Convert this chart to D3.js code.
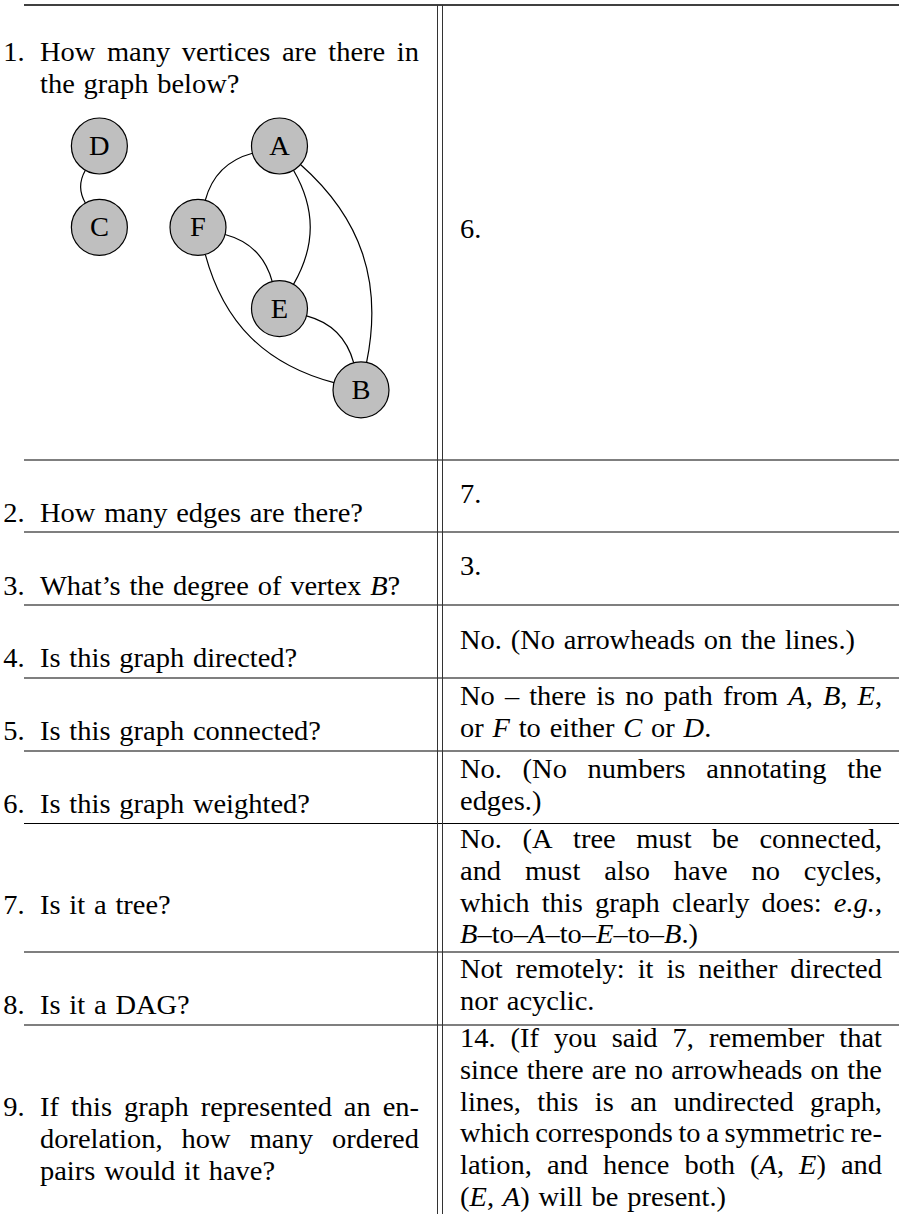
<!DOCTYPE html>
<html><head><meta charset="utf-8">
<script src="https://cdn.jsdelivr.net/npm/d3@7"></script>
<style>html,body{margin:0;padding:0;background:#fff;} svg{display:block;}</style>
</head><body>
<svg id="chart" width="899" height="1214"></svg>
<script>
// ---------- data ----------
const questionNumbers = ["1.","2.","3.","4.","5.","6.","7.","8.","9."];
const questionLines = [
  ["How many vertices are there in", "the graph below?"],
  ["How many edges are there?"],
  ["What’s the degree of vertex *B*?"],
  ["Is this graph directed?"],
  ["Is this graph connected?"],
  ["Is this graph weighted?"],
  ["Is it a tree?"],
  ["Is it a DAG?"],
  ["If this graph represented an en-", "dorelation, how many ordered", "pairs would it have?"]
];
const answerLines = [
  ["6."],
  ["7."],
  ["3."],
  ["No. (No arrowheads on the lines.)"],
  ["No – there is no path from *A*, *B*, *E*,", "or *F* to either *C* or *D*."],
  ["No. (No numbers annotating the", "edges.)"],
  ["No. (A tree must be connected,", "and must also have no cycles,", "which this graph clearly does: *e.g.*,", "*B*–to–*A*–to–*E*–to–*B*.)"],
  ["Not remotely: it is neither directed", "nor acyclic."],
  ["14. (If you said 7, remember that", "since there are no arrowheads on the", "lines, this is an undirected graph,", "which corresponds to a symmetric re-", "lation, and hence both (*A*, *E*) and", "(*E*, *A*) will be present.)"]
];
const nodeNames = ["A","B","C","D","E","F"];
const nodeCol   = [1, 2, -1.21, -1.21, 1, 0];
const nodeRow   = [0, 3, 1, 0, 2, 1];
const edgeList  = [["C","D"],["F","A"],["A","E"],["A","B"],["F","E"],["B","F"],["E","B"]];

// ---------- layout ----------
const layout = {
  topRule: 5,
  rowRules: [460, 532, 605, 678, 751, 823.5, 952, 1025],
  leftFirstBaseline:  [61, 522, 595, 667, 740, 813, 914, 1014, 1116],
  rightFirstBaseline: [238, 503, 575, 649, 705, 778, 848, 978, 1047],
  lineH: 31.8,
  ruleX0: 24, vx: [437.5, 442.5],
  numX: 24.5, leftX0: 40, leftX1: 419, rightX0: 460, rightX1: 882
};

const W = 899, H = 1214;
const svg = d3.select("#chart");
const FS = 26.5, SPACE = 8.8;
const FONT = "'Liberation Serif','Times New Roman',serif";

function parseWord(word){
  return word.split("*").map((t,i)=>({t, it: i%2===1})).filter(p=>p.t.length);
}
function makeWord(g, word, y){
  const t = g.append("text").attr("y", y).attr("font-family", FONT)
    .attr("font-size", FS).attr("fill", "#000");
  parseWord(word).forEach(p => t.append("tspan").text(p.t).attr("font-style", p.it ? "italic" : null));
  return t;
}
// calibrate horizontal stretch to match reference text widths
const cal = svg.append("g");
const calWords = "No. (No arrowheads on the lines.)".split(" ");
let calSum = 0;
calWords.forEach(w => { calSum += makeWord(cal, w, 0).node().getComputedTextLength(); });
cal.remove();
const R = (395 - SPACE*(calWords.length-1)) / calSum;

function drawLine(g, line, x0, x1, y, justify){
  const items = line.split(" ").map(w => {
    const t = makeWord(g, w, y);
    return {t, w: t.node().getComputedTextLength()*R};
  });
  const total = d3.sum(items, d => d.w);
  const gap = (justify && items.length > 1) ? (x1 - x0 - total)/(items.length - 1) : SPACE;
  let x = x0;
  items.forEach(d => { d.t.attr("transform", `translate(${x},0) scale(${R},1)`); x += d.w + gap; });
}

// ---------- rules ----------
const rules = svg.append("g").attr("stroke", "#000");
rules.append("line").attr("x1", layout.ruleX0).attr("x2", W)
  .attr("y1", layout.topRule).attr("y2", layout.topRule).attr("stroke-width", 1.6);
rules.selectAll("line.row").data(layout.rowRules).join("line").attr("class","row")
  .attr("x1", layout.ruleX0).attr("x2", W).attr("y1", d=>d).attr("y2", d=>d).attr("stroke-width", 1.1);
rules.selectAll("line.v").data(layout.vx).join("line").attr("class","v")
  .attr("x1", d=>d).attr("x2", d=>d).attr("y1", layout.topRule).attr("y2", H)
  .attr("stroke-width", 1).attr("stroke", "#333");

// ---------- text ----------
const txt = svg.append("g");
questionLines.forEach((lines, i) => {
  const y0 = layout.leftFirstBaseline[i];
  txt.append("text").attr("x", 0).attr("y", y0).attr("text-anchor", "end")
    .attr("font-family", FONT).attr("font-size", FS).attr("fill", "#000")
    .attr("transform", `translate(${layout.numX},0) scale(${R},1)`).text(questionNumbers[i]);
  lines.forEach((ln, j) => drawLine(txt, ln, layout.leftX0, layout.leftX1, y0 + j*layout.lineH, j < lines.length-1));
});
answerLines.forEach((lines, i) => {
  const y0 = layout.rightFirstBaseline[i];
  lines.forEach((ln, j) => drawLine(txt, ln, layout.rightX0, layout.rightX1, y0 + j*layout.lineH, j < lines.length-1));
});

// ---------- graph ----------
const gx = d3.scaleLinear().domain([0,1]).range([198, 279.5]);
const gy = d3.scaleLinear().domain([0,1]).range([146, 227.3]);
const NR = 28;
const nodes = nodeNames.map((n,i) => ({name:n, x: gx(nodeCol[i]), y: gy(nodeRow[i])}));
const byName = Object.fromEntries(nodes.map(n => [n.name, n]));
const BEND = 30*Math.PI/180;
function edgePath(e){
  const s = byName[e[0]], t = byName[e[1]];
  const dir = Math.atan2(t.y - s.y, t.x - s.x);
  const out = dir - BEND, inn = dir + Math.PI + BEND;
  const p0 = [s.x + NR*Math.cos(out), s.y + NR*Math.sin(out)];
  const p3 = [t.x + NR*Math.cos(inn), t.y + NR*Math.sin(inn)];
  const k = 0.3915*Math.hypot(p3[0]-p0[0], p3[1]-p0[1]);
  const p = d3.path();
  p.moveTo(p0[0], p0[1]);
  p.bezierCurveTo(p0[0]+k*Math.cos(out), p0[1]+k*Math.sin(out),
                  p3[0]+k*Math.cos(inn), p3[1]+k*Math.sin(inn), p3[0], p3[1]);
  return p.toString();
}
const graph = svg.append("g");
graph.selectAll("path").data(edgeList).join("path")
  .attr("d", edgePath).attr("fill", "none").attr("stroke", "#000").attr("stroke-width", 1.2);
const ng = graph.selectAll("g.node").data(nodes).join("g").attr("class","node");
ng.append("circle").attr("cx", d=>d.x).attr("cy", d=>d.y).attr("r", NR)
  .attr("fill", "#bfbfbf").attr("stroke", "#000").attr("stroke-width", 1.2);
ng.append("text").attr("x", 0).attr("y", d => d.y + 9)
  .attr("transform", d => `translate(${d.x},0) scale(${R},1)`)
  .attr("text-anchor", "middle").attr("font-family", FONT).attr("font-size", FS)
  .attr("fill", "#000").text(d => d.name);
</script></body></html>
